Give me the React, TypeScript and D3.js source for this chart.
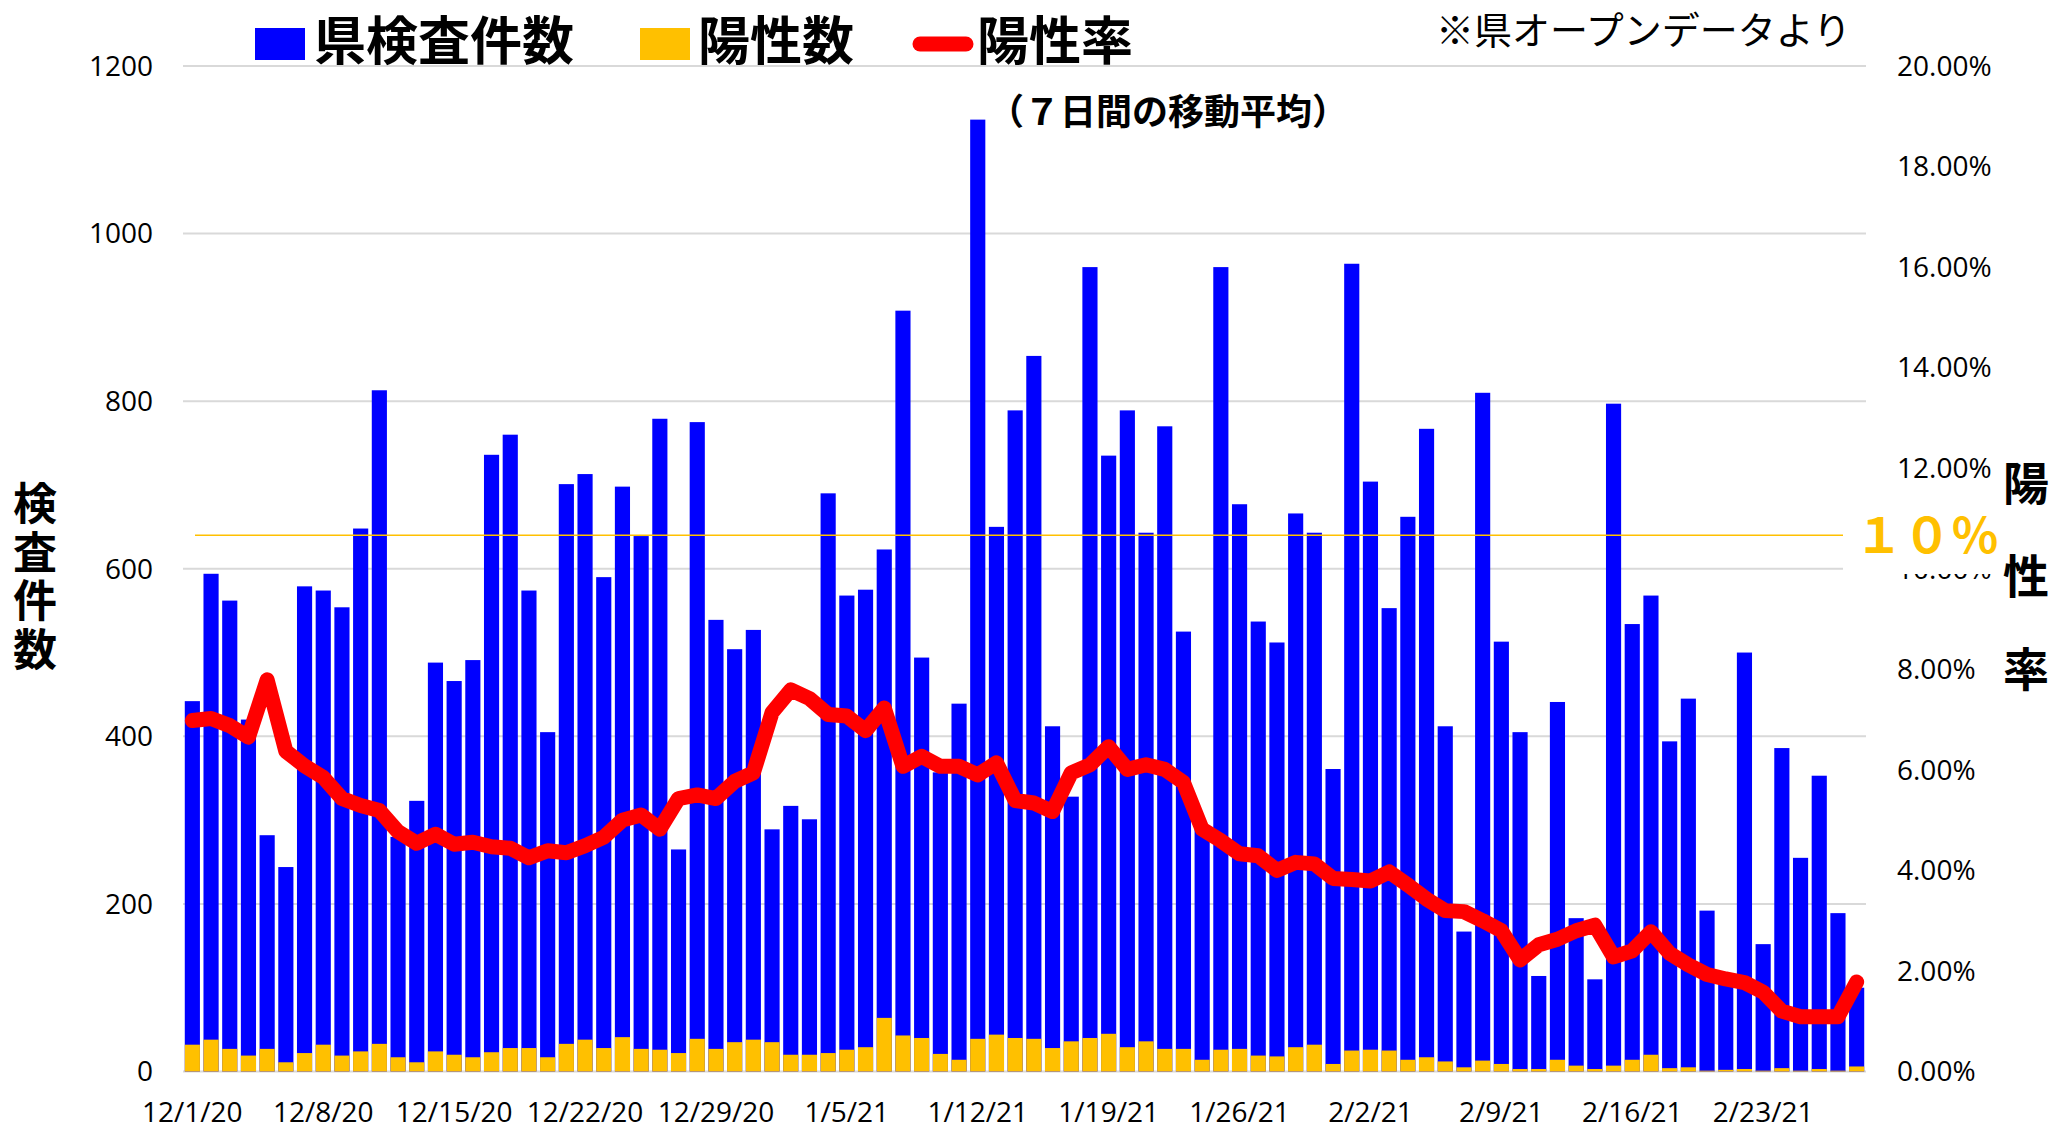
import * as d3 from "d3";

// 2020/12/1 から 90日分
const startDate = new Date(2020, 11, 1);
const days = d3.timeDay.range(startDate, d3.timeDay.offset(startDate, 90));

// 県検査件数
const tests = [
  442, 594, 562, 420, 282, 244, 579, 574, 554, 648,
  813, 280, 323, 488, 466, 491, 736, 760, 574, 405,
  701, 713, 590, 698, 639, 779, 265, 775, 539, 504,
  527, 289, 317, 301, 690, 568, 575, 623, 908, 494,
  357, 439, 1136, 650, 789, 854, 412, 328, 960, 735,
  789, 643, 770, 525, 291, 960, 677, 537, 512, 666,
  643, 361, 964, 704, 553, 662, 767, 412, 167, 810,
  513, 405, 114, 441, 183, 110, 797, 534, 568, 394,
  445, 192, 105, 500, 152, 386, 255, 353, 189, 100,
];

// 陽性数
const positives = [
  32, 38, 27, 19, 27, 11, 22, 32, 19, 24,
  33, 17, 11, 24, 20, 17, 23, 28, 28, 17,
  33, 38, 28, 41, 27, 26, 22, 39, 27, 35,
  38, 35, 20, 20, 22, 26, 29, 64, 43, 40,
  21, 14, 39, 44, 40, 39, 28, 36, 40, 45,
  29, 36, 27, 27, 14, 26, 27, 19, 18, 29,
  32, 9, 25, 26, 25, 14, 17, 12, 5, 13,
  9, 3, 3, 14, 7, 3, 7, 14, 20, 4,
  5, 1, 2, 3, 1, 4, 1, 3, 1, 6,
];

// 陽性率（7日間の移動平均, %）
const positiveRate = [
  6.98, 7.02, 6.88, 6.65, 7.79, 6.37, 6.08, 5.85, 5.43, 5.29,
  5.19, 4.77, 4.54, 4.72, 4.52, 4.56, 4.47, 4.44, 4.25, 4.39,
  4.35, 4.49, 4.66, 5.0, 5.1, 4.82, 5.43, 5.5, 5.43, 5.77,
  5.94, 7.14, 7.59, 7.42, 7.1, 7.07, 6.78, 7.23, 6.07, 6.27,
  6.07, 6.07, 5.9, 6.14, 5.39, 5.34, 5.17, 5.94, 6.1, 6.46,
  6.01, 6.1, 6.01, 5.75, 4.82, 4.59, 4.33, 4.29, 4.0, 4.16,
  4.13, 3.84, 3.82, 3.79, 3.97, 3.71, 3.43, 3.2, 3.18, 3.0,
  2.8, 2.22, 2.52, 2.63, 2.8, 2.91, 2.28, 2.4, 2.78, 2.35,
  2.12, 1.93, 1.84, 1.77, 1.58, 1.2, 1.09, 1.09, 1.09, 1.78,
];

const leftTicks = [0, 200, 400, 600, 800, 1000, 1200];
const rightTicks = [0, 2, 4, 6, 8, 10, 12, 14, 16, 18, 20];
// 手描きの「10%」線（左軸の単位で）
const refLineValue = 640;

const W = 2053;
const H = 1129;
const BLUE = "#0000FF";
const YELLOW = "#FFC000";
const RED = "#FF0000";
const GRID = "#D9D9D9";
const NUM_FONT = "'Open Sans', sans-serif";
const JP_FONT = "'Noto Sans CJK JP', sans-serif";

const fmt = d3.timeFormat("%-m/%-d/%y");

export default function App() {
  const left = 183;
  const right = 1866;
  const bottom = 1071.5;
  const top = 66;

  const x = d3.scaleBand<Date>().domain(days).range([left, right]).paddingInner(0.19).paddingOuter(0.095);
  const y = d3.scaleLinear().domain([0, 1200]).range([bottom, top]);
  const yR = d3.scaleLinear().domain([0, 20]).range([bottom, top]);

  const cx = (d: Date) => (x(d) ?? 0) + x.bandwidth() / 2;

  const line = d3
    .line<number>()
    .x((_, i) => cx(days[i]))
    .y((d) => yR(d))
    .curve(d3.curveLinear);

  const tickDays = days.filter((_, i) => i % 7 === 0);

  return (
    <svg width={W} height={H} style={{ position: "absolute", left: 0, top: 0, background: "#fff" }}>
      {/* grid */}
      {leftTicks.map((t) => (
        <line key={t} x1={left} x2={right} y1={y(t)} y2={y(t)} stroke={GRID} strokeWidth={2} />
      ))}

      {/* bars */}
      {tests.map((v, i) => (
        <rect key={"b" + i} x={x(days[i])} y={y(v)} width={x.bandwidth()} height={bottom - y(v)} fill={BLUE} />
      ))}
      {positives.map((v, i) => (
        <rect key={"p" + i} x={x(days[i])} y={y(v)} width={x.bandwidth()} height={bottom - y(v)} fill={YELLOW} />
      ))}

      {/* 10% reference */}
      <line x1={195} x2={1843} y1={y(refLineValue)} y2={y(refLineValue)} stroke={YELLOW} strokeWidth={1.5} />

      {/* rate line */}
      <path d={line(positiveRate) ?? ""} fill="none" stroke={RED} strokeWidth={15} strokeLinejoin="round" strokeLinecap="round" />

      {/* left axis labels */}
      {leftTicks.map((t) => (
        <text key={"l" + t} x={153} y={y(t)} dy="0.35em" textAnchor="end" fontFamily={NUM_FONT} fontSize={28} fill="#000">
          {t}
        </text>
      ))}

      {/* right axis labels */}
      {rightTicks.map((t) => (
        <text key={"r" + t} x={1897} y={yR(t)} dy="0.35em" textAnchor="start" fontFamily={NUM_FONT} fontSize={28} fill="#000">
          {t.toFixed(2) + "%"}
        </text>
      ))}

      {/* x axis labels */}
      {tickDays.map((d) => (
        <text key={"x" + +d} x={cx(d)} y={1112} dy="0.35em" textAnchor="middle" fontFamily={NUM_FONT} fontSize={28} fill="#000">
          {fmt(d)}
        </text>
      ))}

      {/* 10% label box */}
      <rect x={1843} y={505} width={157} height={69} fill="#fff" />
      <text x={1927} y={553} textAnchor="middle" fontFamily={JP_FONT} fontWeight={700} fontSize={48} fill={YELLOW}>
        １０％
      </text>

      {/* legend */}
      <rect x={255} y={28} width={50} height={32} fill={BLUE} />
      <text x={314} y={60} fontFamily={JP_FONT} fontWeight={700} fontSize={52} fill="#000">
        県検査件数
      </text>
      <rect x={640} y={28} width={50} height={32} fill={YELLOW} />
      <text x={698} y={60} fontFamily={JP_FONT} fontWeight={700} fontSize={52} fill="#000">
        陽性数
      </text>
      <line x1={920} x2={966} y1={44} y2={44} stroke={RED} strokeWidth={15} strokeLinecap="round" />
      <text x={977} y={60} fontFamily={JP_FONT} fontWeight={700} fontSize={52} fill="#000">
        陽性率
      </text>

      <text x={1436} y={44} fontFamily={JP_FONT} fontWeight={400} fontSize={38} fill="#000">
        ※県オープンデータより
      </text>
      <text x={1168} y={125} textAnchor="middle" fontFamily={JP_FONT} fontWeight={700} fontSize={36} fill="#000">
        （７日間の移動平均）
      </text>

      {/* axis titles */}
      {"検査件数".split("").map((c, i) => (
        <text key={"lt" + i} x={35} y={501 + i * 48.5} dominantBaseline="central" textAnchor="middle" fontFamily={JP_FONT} fontWeight={700} fontSize={44} fill="#000">
          {c}
        </text>
      ))}
      {"陽性率".split("").map((c, i) => (
        <text key={"rt" + i} x={2026} y={480 + i * 93} dominantBaseline="central" textAnchor="middle" fontFamily={JP_FONT} fontWeight={700} fontSize={46} fill="#000">
          {c}
        </text>
      ))}
    </svg>
  );
}
